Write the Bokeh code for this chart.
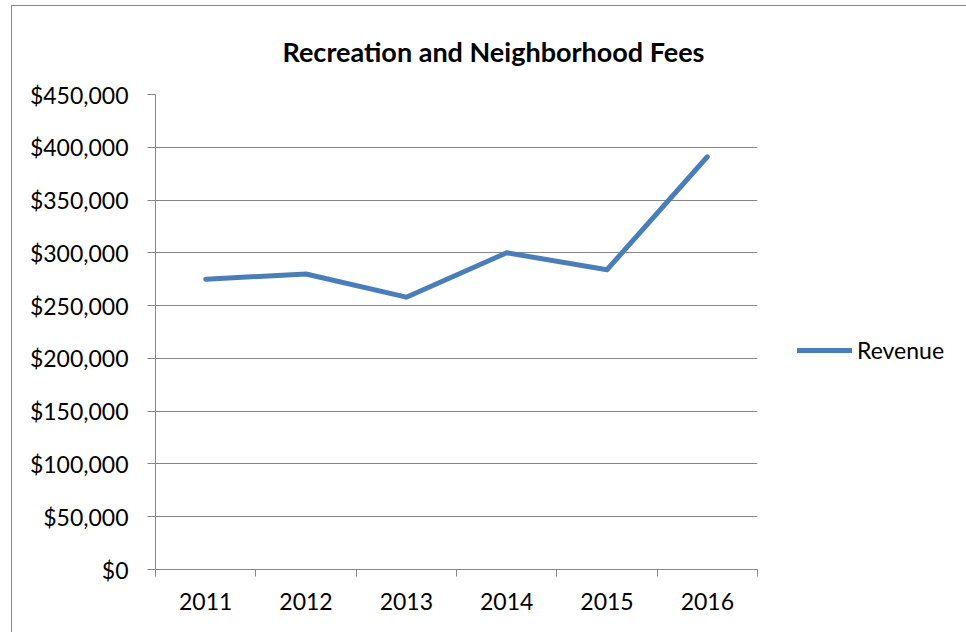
from bokeh.plotting import figure
from bokeh.models import Range1d, FixedTicker, NumeralTickFormatter, Legend, LegendItem, ColumnDataSource
from bokeh.embed import file_html
from bokeh.resources import INLINE

years = [2011, 2012, 2013, 2014, 2015, 2016]
revenue = [275000, 280000, 258000, 300000, 284000, 391000]
y_ticks = [0, 50000, 100000, 150000, 200000, 250000, 300000, 350000, 400000, 450000]
title_text = "Recreation and Neighborhood Fees"
series_name = "Revenue"

FONT = "Lato"
GRAY = "#868686"
BLUE = "#4A7EBB"

src = ColumnDataSource(dict(x=years, y=revenue))

p = figure(width=950, height=626, output_backend="svg", toolbar_location=None,
           x_range=Range1d(years[0] - 0.5, years[-1] + 0.5),
           y_range=Range1d(y_ticks[0], y_ticks[-1]),
           frame_width=602, frame_height=475,
           min_border_left=143, min_border_right=205, min_border_top=88, min_border_bottom=63)
p.styles = {"margin-left": "11px", "margin-top": "5px",
            "border-left": "1px solid #878787", "border-top": "1px solid #878787"}

p.outline_line_color = None
p.background_fill_color = "white"
p.border_fill_color = "white"

r = p.line("x", "y", source=src, line_color=BLUE, line_width=5,
           line_cap="round", line_join="round")

# x axis: labels at category centres, ticks at category boundaries
p.xaxis.ticker = FixedTicker(ticks=years, minor_ticks=[y - 0.5 for y in years] + [years[-1] + 0.5])
p.xaxis.major_tick_in = 0
p.xaxis.major_tick_out = 0
p.xaxis.minor_tick_in = 0
p.xaxis.minor_tick_out = 7
p.xaxis.minor_tick_line_color = GRAY
p.xaxis.axis_line_color = GRAY
p.xaxis.major_label_text_font = FONT
p.xaxis.major_label_text_font_size = "23px"
p.xaxis.major_label_text_color = "black"
p.xaxis.major_label_standoff = 16
p.xgrid.visible = False

p.yaxis.ticker = FixedTicker(ticks=y_ticks)
p.yaxis.formatter = NumeralTickFormatter(format="$0,0")
p.yaxis.major_tick_in = 0
p.yaxis.major_tick_out = 8
p.yaxis.minor_tick_line_color = None
p.yaxis.major_tick_line_color = GRAY
p.yaxis.axis_line_color = GRAY
p.yaxis.major_label_text_font = FONT
p.yaxis.major_label_text_font_size = "23px"
p.yaxis.major_label_text_color = "black"
p.yaxis.major_label_standoff = 19
p.ygrid.grid_line_color = GRAY
p.ygrid.grid_line_width = 1

p.title.text = title_text
p.title.align = "left"
p.title.offset = 127
p.title.vertical_align = "middle"
p.title.text_font = FONT
p.title.text_font_size = "27px"
p.title.text_font_style = "bold"
p.title.text_color = "black"
p.title.standoff = 52

legend = Legend(items=[LegendItem(label=series_name, renderers=[r])],
                location=(40, 205), orientation="vertical",
                glyph_width=55, glyph_height=20, label_standoff=5,
                margin=0, padding=0, border_line_color=None, background_fill_alpha=0,
                label_text_font=FONT, label_text_font_size="23px", label_text_color="black")
p.add_layout(legend, "right")

open("out.html", "w").write(file_html(p, INLINE))
